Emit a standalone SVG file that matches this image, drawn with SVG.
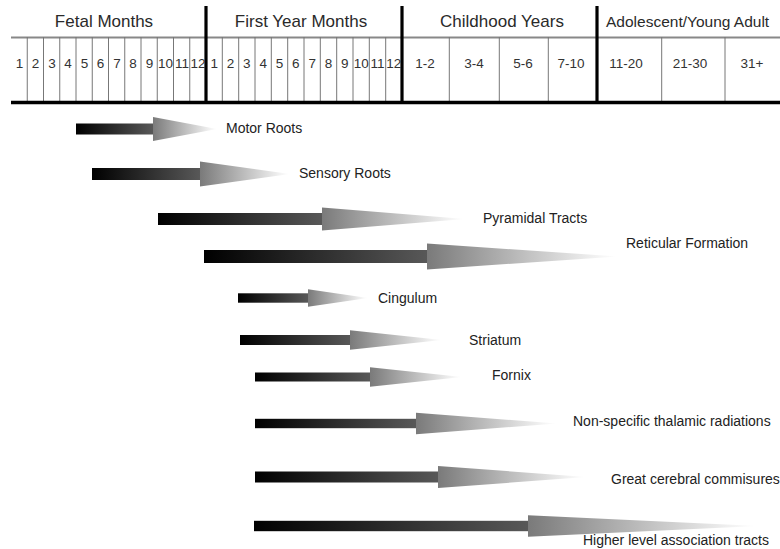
<svg xmlns="http://www.w3.org/2000/svg" width="780" height="549" viewBox="0 0 780 549">
<defs>
<linearGradient id="gShaft" x1="0" y1="0" x2="1" y2="0"><stop offset="0" stop-color="#000"/><stop offset="1" stop-color="#585858"/></linearGradient>
<linearGradient id="gHead" x1="0" y1="0" x2="1" y2="0"><stop offset="0" stop-color="#7a7a7a"/><stop offset="0.9" stop-color="#f4f4f4"/><stop offset="1" stop-color="#fff"/></linearGradient>
</defs>
<style>
.hdr{font-family:"Liberation Sans",Arial,sans-serif;font-size:17px;fill:#2a2a2a}
.hdr.small{font-size:15.5px}
.cell{font-family:"Liberation Sans",Arial,sans-serif;font-size:13.5px;fill:#333;text-anchor:middle}
.lbl{font-family:"Liberation Sans",Arial,sans-serif;font-size:14px;fill:#222}
.thin{stroke:#777;stroke-width:1}
.thick{stroke:#000;stroke-width:3.2}
.shaft{fill:url(#gShaft)}
.head{fill:url(#gHead)}
</style>
<rect width="780" height="549" fill="#fff"/>
<g id="header">
<line x1="11" y1="37.5" x2="780" y2="37.5" stroke="#888" stroke-width="2"/>
<g class="thin">
<line x1="27.25" y1="37" x2="27.25" y2="102"/><line x1="43.5" y1="37" x2="43.5" y2="102"/><line x1="59.75" y1="37" x2="59.75" y2="102"/><line x1="76" y1="37" x2="76" y2="102"/><line x1="92.25" y1="37" x2="92.25" y2="102"/><line x1="108.5" y1="37" x2="108.5" y2="102"/><line x1="124.75" y1="37" x2="124.75" y2="102"/><line x1="141" y1="37" x2="141" y2="102"/><line x1="157.25" y1="37" x2="157.25" y2="102"/><line x1="173.5" y1="37" x2="173.5" y2="102"/><line x1="189.75" y1="37" x2="189.75" y2="102"/>
<line x1="222.3" y1="37" x2="222.3" y2="102"/><line x1="238.7" y1="37" x2="238.7" y2="102"/><line x1="255" y1="37" x2="255" y2="102"/><line x1="271.3" y1="37" x2="271.3" y2="102"/><line x1="287.7" y1="37" x2="287.7" y2="102"/><line x1="304" y1="37" x2="304" y2="102"/><line x1="320.3" y1="37" x2="320.3" y2="102"/><line x1="336.7" y1="37" x2="336.7" y2="102"/><line x1="353" y1="37" x2="353" y2="102"/><line x1="369.3" y1="37" x2="369.3" y2="102"/><line x1="385.7" y1="37" x2="385.7" y2="102"/>
<line x1="449.3" y1="37" x2="449.3" y2="102"/><line x1="499.3" y1="37" x2="499.3" y2="102"/><line x1="548.3" y1="37" x2="548.3" y2="102"/>
<line x1="661.7" y1="37" x2="661.7" y2="102"/><line x1="725" y1="37" x2="725" y2="102"/>
</g>
<line class="thick" x1="206" y1="6" x2="206" y2="103"/>
<line class="thick" x1="402" y1="6" x2="402" y2="103"/>
<line class="thick" x1="597" y1="6" x2="597" y2="103"/>
<line x1="11" y1="102.5" x2="780" y2="102.5" stroke="#000" stroke-width="3.5"/>
<text class="hdr" x="104" y="27" text-anchor="middle">Fetal Months</text>
<text class="hdr" x="301" y="27" text-anchor="middle">First Year Months</text>
<text class="hdr" x="502" y="27" text-anchor="middle">Childhood Years</text>
<text class="hdr small" x="606" y="27">Adolescent/Young Adult</text>
<g>
<text class="cell" x="19.4" y="68">1</text><text class="cell" x="35.6" y="68">2</text><text class="cell" x="51.9" y="68">3</text><text class="cell" x="68.1" y="68">4</text><text class="cell" x="84.4" y="68">5</text><text class="cell" x="100.6" y="68">6</text><text class="cell" x="116.9" y="68">7</text><text class="cell" x="133.1" y="68">8</text><text class="cell" x="149.4" y="68">9</text><text class="cell" x="165.6" y="68">10</text><text class="cell" x="181.9" y="68">11</text><text class="cell" x="198.1" y="68">12</text>
<text class="cell" x="214.2" y="68">1</text><text class="cell" x="230.5" y="68">2</text><text class="cell" x="246.8" y="68">3</text><text class="cell" x="263.2" y="68">4</text><text class="cell" x="279.5" y="68">5</text><text class="cell" x="295.8" y="68">6</text><text class="cell" x="312.2" y="68">7</text><text class="cell" x="328.5" y="68">8</text><text class="cell" x="344.8" y="68">9</text><text class="cell" x="361.2" y="68">10</text><text class="cell" x="377.5" y="68">11</text><text class="cell" x="393.8" y="68">12</text>
<text class="cell" x="425" y="68">1-2</text><text class="cell" x="474" y="68">3-4</text><text class="cell" x="523" y="68">5-6</text><text class="cell" x="571" y="68">7-10</text>
<text class="cell" x="626" y="68">11-20</text><text class="cell" x="690" y="68">21-30</text><text class="cell" x="752" y="68">31+</text>
</g>
</g>
<g id="motor-roots"><rect class="shaft" x="76" y="123.5" width="77" height="11"/><polygon class="head" points="153,117 153,141 217,129"/><text class="lbl" x="226" y="133">Motor Roots</text></g>
<g id="sensory-roots"><rect class="shaft" x="92" y="168" width="108" height="12"/><polygon class="head" points="200,161.5 200,186.5 290,174"/><text class="lbl" x="299" y="178">Sensory Roots</text></g>
<g id="pyramidal-tracts"><rect class="shaft" x="158" y="213" width="164" height="12"/><polygon class="head" points="322,207.5 322,230.5 465,219"/><text class="lbl" x="483" y="223">Pyramidal Tracts</text></g>
<g id="reticular-formation"><rect class="shaft" x="204" y="250" width="223" height="13"/><polygon class="head" points="427,243.5 427,269.5 618,256.5"/><text class="lbl" x="626" y="248">Reticular Formation</text></g>
<g id="cingulum"><rect class="shaft" x="238" y="293.3" width="70" height="9.4"/><polygon class="head" points="308,289.3 308,306.7 368,298"/><text class="lbl" x="378" y="303">Cingulum</text></g>
<g id="striatum"><rect class="shaft" x="240" y="335" width="110" height="10"/><polygon class="head" points="350,330.3 350,349.7 442,340"/><text class="lbl" x="469" y="345">Striatum</text></g>
<g id="fornix"><rect class="shaft" x="255" y="372.5" width="115" height="9"/><polygon class="head" points="370,367.3 370,386.7 462,377"/><text class="lbl" x="492" y="380">Fornix</text></g>
<g id="non-specific-thalamic-radiations"><rect class="shaft" x="255" y="418.8" width="161" height="9.4"/><polygon class="head" points="416,412.8 416,434.2 557,423.5"/><text class="lbl" x="573" y="426">Non-specific thalamic radiations</text></g>
<g id="great-cerebral-commisures"><rect class="shaft" x="255" y="471.5" width="183" height="11"/><polygon class="head" points="438,466 438,488 586,477"/><text class="lbl" x="611" y="484">Great cerebral commisures</text></g>
<g id="higher-level-association-tracts"><rect class="shaft" x="254" y="520.8" width="274" height="10.4"/><polygon class="head" points="528,515.3 528,536.7 758,526"/><text class="lbl" x="583" y="545">Higher level association tracts</text></g>
</svg>
